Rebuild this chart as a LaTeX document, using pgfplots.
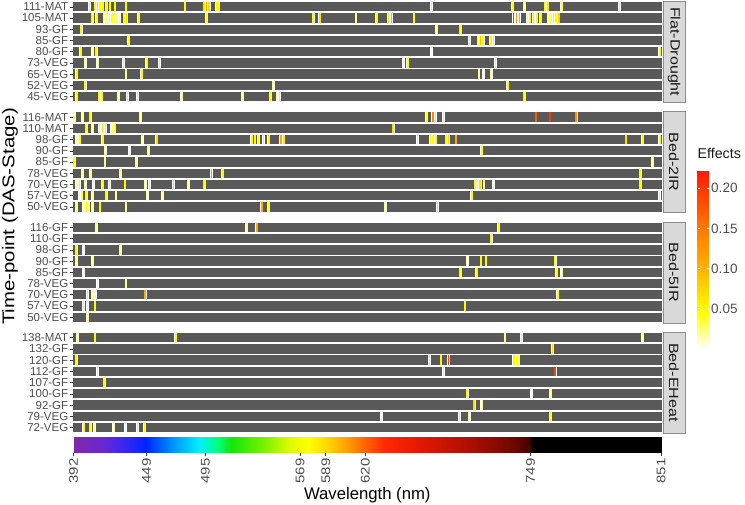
\documentclass[border=0pt]{standalone}
\usepackage{pgfplots}
\pgfplotsset{compat=1.18}
\usepackage{pgfplotstable}
\usepackage{fontspec}
\setmainfont{Liberation Sans}
\newfontfamily\rotfont[FakeStretch=1.2]{Liberation Sans}
\definecolor{rowgray}{HTML}{595959}
\definecolor{tickgray}{HTML}{4D4D4D}
\definecolor{stripgray}{HTML}{D9D9D9}
\definecolor{stripline}{HTML}{8C8C8C}
\definecolor{darktext}{HTML}{1A1A1A}
\definecolor{tickline}{HTML}{333333}

\pgfplotstableread{
x r e
404.4 9 0.05
408.8 9 0.05
410.6 9 0.07
412.7 9 0.05
414.8 9 0.05
417.4 9 0.05
420.5 9 0.05
424.4 9 0.05
433.0 9 0.05
479.1 9 0.05
494.0 9 0.07
496.0 9 0.11
498.0 9 0.07
503.9 9 0.05
505.6 9 0.05
671.8 9 0.05
734.8 9 0.05
744.0 9 0.02
760.3 9 0.05
762.6 9 0.07
773.4 9 0.04
818.4 9 0.05
406.5 8 0.05
410.1 8 0.05
416.0 8 0.02
418.0 8 0.025
420.0 8 0.035
422.0 8 0.04
424.0 8 0.035
426.0 8 0.025
428.0 8 0.02
431.5 8 0.05
433.4 8 0.07
442.6 8 0.05
496.0 8 0.05
579.3 8 0.05
584.5 8 0.07
612.7 8 0.02
628.9 8 0.05
638.0 8 0.07
640.4 8 0.10
658.0 8 0.05
735.6 8 0.20
738.2 8 0.12
740.3 8 0.10
746.5 8 0.03
748.5 8 0.05
751.2 8 0.07
753.9 8 0.05
757.0 8 0.05
763.0 8 0.02
765.0 8 0.03
767.0 8 0.05
769.0 8 0.05
771.3 8 0.08
397.9 7 0.05
675.7 7 0.02
694.0 7 0.05
434.8 6 0.05
701.2 6 0.05
708.0 6 0.03
710.0 6 0.09
712.0 6 0.05
718.0 6 0.05
720.0 6 0.05
397.6 5 0.05
407.0 5 0.02
409.6 5 0.05
671.8 5 0.02
850.0 5 0.05
401.0 4 0.02
410.9 4 0.02
431.0 4 0.05
449.2 4 0.05
459.0 4 0.05
649.7 4 0.02
653.1 4 0.05
721.5 4 0.05
394.5 3 0.05
433.0 3 0.02
445.3 3 0.05
708.8 3 0.02
712.2 3 0.02
718.2 3 0.02
401.0 2 0.05
548.0 2 0.02
731.2 2 0.05
394.5 1 0.05
412.0 1 0.05
414.0 1 0.05
427.0 1 0.02
434.3 1 0.05
441.9 1 0.05
476.5 1 0.02
524.2 1 0.02
546.0 1 0.05
551.0 1 0.02
553.0 1 0.05
744.0 1 0.05
}\tabA

\pgfplotstableread{
x r e
392.4 9 0.02
399.2 9 0.02
404.9 9 0.05
444.0 9 0.02
667.9 9 0.05
672.6 9 0.14
674.8 9 0.06
680.9 9 0.05
753.3 9 0.17
764.2 9 0.20
784.6 9 0.13
401.8 8 0.05
407.0 8 0.02
412.2 8 0.05
414.5 8 0.07
417.0 8 0.05
422.0 8 0.02
424.0 8 0.04
641.8 8 0.07
394.5 7 0.02
397.0 7 0.05
414.8 7 0.05
446.0 7 0.02
457.0 7 0.07
531.2 7 0.05
533.8 7 0.05
536.4 7 0.05
540.3 7 0.05
544.5 7 0.05
554.0 7 0.11
556.2 7 0.06
660.6 7 0.05
671.0 7 0.05
673.0 7 0.05
675.0 7 0.05
683.0 7 0.05
685.0 7 0.07
690.8 7 0.11
823.6 7 0.07
836.7 7 0.05
850.0 7 0.05
416.8 6 0.02
435.6 6 0.02
450.4 6 0.02
710.9 6 0.05
392.4 5 0.05
416.6 5 0.02
441.4 5 0.02
844.2 5 0.02
399.2 4 0.02
405.4 4 0.02
428.9 4 0.02
499.7 4 0.11
508.6 4 0.05
834.6 4 0.05
394.5 3 0.02
396.5 3 0.05
401.0 3 0.02
407.5 3 0.02
414.8 3 0.05
420.0 3 0.05
432.2 3 0.05
447.9 3 0.02
451.3 3 0.05
470.0 3 0.07
481.7 3 0.02
494.0 3 0.05
705.7 3 0.05
707.7 3 0.05
709.7 3 0.07
712.7 3 0.02
720.0 3 0.02
834.6 3 0.05
396.5 2 0.02
398.5 2 0.035
401.8 2 0.05
407.0 2 0.02
417.4 2 0.05
425.2 2 0.02
449.6 2 0.02
461.6 2 0.02
703.1 2 0.05
849.8 2 0.05
394.0 1 0.02
400.0 1 0.02
402.0 1 0.05
404.0 1 0.02
407.0 1 0.02
412.7 1 0.05
433.0 1 0.02
539.0 1 0.11
544.2 1 0.05
635.4 1 0.02
676.2 1 0.07
}\tabB

\pgfplotstableread{
x r e
409.6 9 0.02
527.3 9 0.02
535.1 9 0.11
723.9 9 0.05
718.2 8 0.05
394.0 7 0.05
399.7 7 0.02
428.9 7 0.02
394.0 6 0.02
407.0 6 0.02
699.6 6 0.015
710.3 6 0.05
714.2 6 0.05
768.2 6 0.05
399.7 5 0.02
694.0 5 0.05
707.0 5 0.05
769.5 5 0.05
773.4 5 0.02
410.6 4 0.02
433.0 4 0.02
402.8 3 0.05
407.0 3 0.02
409.0 3 0.02
447.9 3 0.11
770.3 3 0.05
399.7 2 0.05
402.8 2 0.02
408.8 2 0.05
697.8 2 0.05
403.1 1 0.02
}\tabC

\pgfplotstableread{
x r e
395.3 9 0.02
408.8 9 0.05
472.0 9 0.05
729.1 9 0.02
742.1 9 0.05
836.7 9 0.02
766.3 8 0.07
394.0 7 0.05
670.0 7 0.05
679.1 7 0.05
684.8 7 0.19
736.0 7 0.05
738.0 7 0.04
740.0 7 0.03
410.6 6 0.05
680.9 6 0.05
768.2 6 0.19
416.0 5 0.05
699.6 4 0.05
749.9 4 0.02
764.8 4 0.02
704.9 3 0.07
710.9 3 0.02
632.7 2 0.02
693.5 2 0.05
701.0 2 0.02
764.5 2 0.05
400.1 1 0.05
404.9 1 0.05
408.6 1 0.02
423.4 1 0.02
432.7 1 0.02
441.9 1 0.05
447.5 1 0.05
}\tabD

\pgfplotstableread{
x y
392 0
415 0
430 0
449 0
470 0
490 0
505 0
515 0
540 0
560 0
575 0
590 0
605 0
620 0
635 0
660 0
700 0
735 0
748.5 0
749 0
851 0
392 1
415 1
430 1
449 1
470 1
490 1
505 1
515 1
540 1
560 1
575 1
590 1
605 1
620 1
635 1
660 1
700 1
735 1
748.5 1
749 1
851 1
}\spec

\pgfplotsset{
  /pgf/number format/assume math mode=true,
  effcmap/.style={colormap={eff}{rgb255(0pt)=(255,255,255) rgb255(4.5pt)=(255,255,0) rgb255(10pt)=(255,180,0) rgb255(15pt)=(255,120,0) rgb255(22.3pt)=(255,25,0)}},
  panel/.style={
    scale only axis, width=588.8pt, height=101pt,
    xmin=391.5, xmax=851.5, ymin=0.5, ymax=9.5,
    axis line style={draw=none},
    xtick=\empty,
    ytick={1,2,3,4,5,6,7,8,9},
    minor ytick={0.5,1.5,2.5,3.5,4.5,5.5,6.5,7.5,8.5,9.5},
    yminorgrids, minor grid style={white, line width=1.9pt},
    minor tick length=0pt,
    major tick length=3pt, tick align=outside, ytick pos=left,
    ytick style={tickline, line width=0.5pt},
    yticklabel style={font=\fontsize{11.5}{12}\selectfont, text=tickgray, inner xsep=1.5pt},
    axis background/.style={fill=rowgray},
    effcmap, point meta min=0, point meta max=0.2229,
    clip=false,
    anchor=north west,
  },
}
\tikzset{
  strip/.style={xshift=1.3pt, rotate=-90, anchor=south, fill=stripgray, draw=stripline, line width=0.5pt,
    minimum width=101pt, minimum height=21.5pt, inner sep=0pt,
    font=\rotfont\fontsize{13.4}{14}\selectfont, text=darktext},
}
\newcommand\tiles[1]{%
  \addplot[only marks, mark=|, mark size=4.66pt, mark options={draw=white, line width=2.9pt}] table[x=x, y=r] {#1};
  \addplot[scatter, only marks, mark=|, mark size=4.66pt, point meta=explicit,
    scatter/use mapped color={draw=mapped color}, mark options={line width=1.6pt}] table[x=x, y=r, meta=e] {#1};
}

\begin{document}
\begin{tikzpicture}
\useasboundingbox (0pt,0pt) rectangle (745pt,-504pt);

\begin{axis}[panel, at={(72.9pt,-1.2pt)},
  yticklabels={45-VEG,52-VEG,65-VEG,73-VEG,80-GF,85-GF,93-GF,105-MAT,111-MAT},
  colorbar,
  colorbar style={
    at={(parent axis.north east)}, anchor=north west,
    xshift=27.3pt, yshift=-168.8pt,
    width=11.5pt, height=178.5pt,
    ytick={0.05,0.1,0.15,0.2},
    yticklabel style={font=\fontsize{13.5}{14}\selectfont, text=tickgray, inner xsep=2pt,
      /pgf/number format/fixed, /pgf/number format/fixed zerofill, /pgf/number format/precision=2},
    ytick style={draw=white, line width=0.5pt}, major tick length=2.2pt, tick align=inside,
    ytick pos=both, yticklabel pos=right,
    axis line style={draw=none},
    title={Effects},
    title style={at={(0,1)}, anchor=south west, inner sep=0pt, yshift=5pt, font=\fontsize{14.2}{16}\selectfont, text=darktext},
  },
]
\tiles{\tabA}
\node[strip] at (rel axis cs:1,0.5) {Flat-Drought};
\end{axis}

\begin{axis}[panel, at={(72.9pt,-111.5pt)},
  yticklabels={50-VEG,57-VEG,70-VEG,78-VEG,85-GF,90-GF,98-GF,110-MAT,116-MAT},
  ylabel={Time-point (DAS-Stage)},
  ylabel style={at={(ticklabel cs:-0.04)}, anchor=south, inner sep=0pt, yshift=3pt,
    font=\rotfont\fontsize{17}{18}\selectfont, text=black},
]
\tiles{\tabB}
\node[strip] at (rel axis cs:1,0.5) {Bed-2IR};
\end{axis}

\begin{axis}[panel, at={(72.9pt,-221.8pt)},
  yticklabels={50-VEG,57-VEG,70-VEG,78-VEG,85-GF,90-GF,98-GF,110-GF,116-GF},
]
\tiles{\tabC}
\node[strip] at (rel axis cs:1,0.5) {Bed-5IR};
\end{axis}

\begin{axis}[panel, at={(72.9pt,-332.1pt)},
  yticklabels={72-VEG,79-VEG,92-GF,100-GF,107-GF,112-GF,120-GF,132-GF,138-MAT},
]
\tiles{\tabD}
\node[strip] at (rel axis cs:1,0.5) {Bed-EHeat};
\end{axis}

\begin{axis}[at={(72.9pt,-436.8pt)}, anchor=north west, scale only axis, width=588.8pt, height=16pt,
  xmin=391.5, xmax=851.5, ymin=0, ymax=1, ytick=\empty,
  xtick={392,449,495,569,589,620,749,851},
  xticklabel style={rotate=90, anchor=east, inner xsep=2pt, font=\rotfont\fontsize{12.5}{13}\selectfont, text=tickgray},
  xtick style={tickline, line width=0.5pt}, major tick length=3.5pt, tick align=outside, xtick pos=bottom,
  axis line style={draw=none},
  xlabel={Wavelength (nm)},
  xlabel style={font=\fontsize{16.7}{18}\selectfont, text=black, inner sep=0pt, yshift=-2pt},
  colormap={spec}{rgb255(0pt)=(128,40,165) rgb255(23pt)=(105,40,210) rgb255(38pt)=(60,40,240)
    rgb255(57pt)=(0,35,255) rgb255(78pt)=(0,150,255) rgb255(98pt)=(0,240,255) rgb255(113pt)=(0,255,120)
    rgb255(123pt)=(20,230,10) rgb255(148pt)=(120,240,0) rgb255(168pt)=(220,250,0) rgb255(183pt)=(255,255,0)
    rgb255(198pt)=(255,215,0) rgb255(213pt)=(255,160,0) rgb255(228pt)=(255,100,0) rgb255(243pt)=(255,40,0)
    rgb255(268pt)=(230,25,0) rgb255(308pt)=(175,15,0) rgb255(343pt)=(110,8,0) rgb255(356.5pt)=(70,0,0)
    rgb255(357pt)=(0,0,0) rgb255(459pt)=(0,0,0)},
  point meta min=392, point meta max=851,
]
\addplot[surf, shader=interp, mesh/cols=21, point meta=x] table[x=x, y=y] {\spec};
\end{axis}
\end{tikzpicture}
\end{document}
